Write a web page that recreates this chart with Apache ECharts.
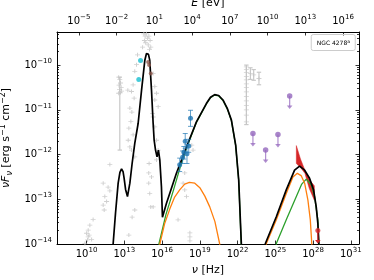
<!DOCTYPE html>
<html><head><meta charset="utf-8">
<script src="https://cdn.jsdelivr.net/npm/echarts@6/dist/echarts.min.js"></script>
<style>html,body{margin:0;padding:0;background:#fff}#c{width:374px;height:280px}</style>
</head><body><div id="c"></div>
<script>
// All values: [log10(nu / Hz), log10(nuFnu / erg s^-1 cm^-2)]
const X_TICKS = [10, 13, 16, 19, 22, 25, 28, 31];
const E_TICKS = [-5, -2, 1, 4, 7, 10, 13, 16];   // log10(E / eV)
const Y_TICKS = [-14, -13, -12, -11, -10];
const LOG_H_EV = -14.3834;                        // log10(h / eV s)

const totalLow = [[12.05,-14.3],[12.11,-14.0],[12.30,-13.31],[12.51,-12.64],[12.65,-12.40],[12.78,-12.32],[12.90,-12.38],[12.98,-12.52],[13.1,-12.78],[13.25,-12.94],[13.44,-12.64],[13.62,-12.20],[13.83,-11.75],[14.10,-11.30],[14.37,-10.56],[14.63,-9.89],[14.76,-9.74],[14.84,-9.70],[14.92,-9.76],[15.02,-9.89],[15.16,-10.56],[15.29,-11.30],[15.37,-11.68],[15.48,-11.90],[15.60,-12.05],[15.71,-11.90],[15.82,-12.12],[15.95,-12.72],[16.03,-13.40],[16.35,-13.09],[17.14,-12.42],[17.94,-11.83],[18.73,-11.27],[19.52,-10.86],[19.85,-10.72],[20.18,-10.66],[20.50,-10.68],[20.84,-10.78],[21.2,-10.98],[21.51,-11.23],[21.85,-11.79],[22.09,-12.57],[22.30,-14.0],[22.33,-14.3]];
const totalHigh = [[24.15,-14.3],[24.21,-13.99],[25.08,-13.39],[25.87,-12.79],[26.53,-12.35],[26.93,-12.26],[27.33,-12.35],[27.72,-12.53],[28.04,-12.79],[28.25,-13.17],[28.38,-13.54],[28.46,-14.0],[28.48,-14.3]];
const orangeLow = [[15.75,-14.3],[15.82,-14.0],[16.2,-13.55],[16.61,-13.22],[17.0,-12.95],[17.40,-12.79],[17.8,-12.66],[18.17,-12.62],[18.6,-12.64],[19.0,-12.74],[19.4,-12.93],[19.79,-13.17],[20.2,-13.5],[20.58,-14.0],[20.65,-14.3]];
const orangeHigh = [[24.2,-14.3],[24.29,-13.99],[25.08,-13.46],[25.87,-12.87],[26.40,-12.50],[26.75,-12.42],[27.05,-12.47],[27.33,-12.64],[27.59,-13.02],[27.78,-13.46],[27.90,-14.0],[27.93,-14.3]];
const greenLow = [[15.68,-14.3],[15.75,-14.0],[16.3,-13.35],[16.9,-12.8],[17.4,-12.32],[17.94,-11.86],[18.73,-11.28],[19.52,-10.87],[19.85,-10.73],[20.18,-10.67],[20.50,-10.69],[20.84,-10.79],[21.2,-10.99],[21.51,-11.24],[21.85,-11.80],[22.09,-12.58],[22.29,-14.0],[22.32,-14.3]];
const greenHigh = [[25.0,-14.3],[25.08,-13.99],[25.87,-13.46],[26.67,-12.94],[27.1,-12.66],[27.46,-12.55],[27.86,-12.68],[28.12,-12.94],[28.38,-13.46],[28.46,-14.0],[28.48,-14.3]];

const greyPoints = [
 [11.85,-12.22],[11.32,-12.64],[11.71,-12.73],[11.85,-12.81],[11.45,-12.94],[11.59,-13.05],[11.32,-13.13],[11.40,-13.24],[10.52,-13.45],[10.26,-13.58],[10.13,-13.69],[10.0,-13.76],[10.13,-13.84],[10.08,-13.91],[10.40,-13.90],[9.87,-13.99],[10.2,-13.80],
 [12.55,-10.27],[12.64,-10.32],[12.70,-10.40],[12.58,-10.45],[12.75,-10.50],[12.62,-10.55],[12.68,-10.62],[12.78,-10.58],[12.55,-10.63],
 [14.05,-9.77],[13.97,-9.99],[13.83,-10.14],[13.70,-10.44],[13.57,-10.59],[13.78,-10.74],[13.44,-10.96],[13.60,-11.05],[13.52,-11.26],[13.36,-11.41],[13.70,-11.56],[13.28,-10.56],[13.44,-11.83],[13.57,-11.90],[13.83,-12.05],[13.31,-11.68],
 [14.55,-9.30],[14.65,-9.35],[14.75,-9.30],[14.85,-9.40],[14.95,-9.35],[15.05,-9.45],[14.70,-9.50],[14.90,-9.55],[15.10,-9.60],[14.60,-9.45],[15.0,-9.65],[14.45,-9.60],
 [15.29,-10.19],[15.42,-10.48],[15.56,-10.63],[15.42,-10.78],[15.69,-10.93],[15.29,-11.16],[15.42,-11.38],[15.56,-11.68],[15.69,-11.90],[15.24,-11.08],[15.56,-12.12],
 [14.97,-12.20],[14.94,-12.41],[14.94,-12.64],[15.02,-12.87],[15.10,-13.17],[15.16,-12.50],[15.29,-13.17],
 [13.83,-13.24],[13.62,-13.40],[13.36,-13.80],
 [17.80,-12.41],[17.67,-12.64],[17.80,-12.79],[17.94,-12.94],[18.46,-11.90],[18.36,-11.79],[17.27,-13.46],[18.21,-13.75],[18.21,-13.84],[18.21,-13.93],
 [22.70,-10.04],[22.70,-10.10],[22.70,-10.17],[22.70,-10.25],[22.70,-10.33],[22.70,-10.42],[22.70,-10.50],[22.70,-10.60],[22.70,-10.70],[22.70,-10.80],[22.70,-10.90],[22.70,-11.0],[22.70,-11.12],[22.70,-11.27],
 [23.02,-10.19],[23.28,-10.22],[23.70,-10.30]
];
// [log nu, low, high]
const greyErrors = [[12.64,-11.90,-10.27],[22.70,-11.33,-10.0],[23.02,-10.32,-10.06],[23.28,-10.34,-10.10],[23.70,-10.44,-10.16]];
const cyanPoints = [[14.29,-9.90],[14.15,-10.32]];
const brownPoints = [[14.89,-9.93],[14.97,-10.0],[15.10,-10.19]];
const bluePoints = [[18.26,-11.19],[17.84,-11.70],[18.12,-11.81],[17.98,-11.98],[17.63,-12.06],[17.73,-11.95],[17.40,-12.23]];
const blueErrors = [[18.26,-11.37,-11.01],[17.84,-11.86,-11.53],[18.12,-11.95,-11.66],[17.98,-12.20,-11.78],[17.63,-12.2,-11.92],[17.73,-12.1,-11.82],[17.40,-12.38,-12.08]];
const purpleUL = [[23.22,-11.53],[24.23,-11.90],[25.21,-11.55],[26.14,-10.69]];
const redUL = [[28.38,-13.70]];
const bowtie = [[26.67,-11.80],[27.0,-12.10],[27.35,-12.35],[27.7,-12.56],[28.1,-12.70],[28.1,-13.02],[27.7,-12.76],[27.35,-12.42],[27.0,-12.29],[26.67,-12.20]];

const FONT = 'DejaVu Sans';
const X_MIN = 7.65, X_MAX = 31.65, Y_MIN = -14, Y_MAX = -9.26;
const UL_LEN = 0.28;

const yMinor = [];
for (let d = -14; d <= -10; d++) for (let k = 2; k <= 9; k++) { const v = d + Math.log10(k); if (v < Y_MAX) yMinor.push(v); }

const rich = {
  b: {fontSize: 10, fontFamily: FONT, color: '#000'},
  s: {fontSize: 7, fontFamily: FONT, color: '#000', padding: [0, 0, 8, 0]}
};
const supLabel = n => '{b|10}{s|' + (n < 0 ? '\u2212' + (-n) : n) + '}';

function errRender(color, cap, width) {
  return function (params, api) {
    const x = api.value(0), a = api.coord([x, api.value(1)]), b = api.coord([x, api.value(2)]);
    const st = {stroke: color, lineWidth: width};
    return {type: 'group', children: [
      {type: 'line', shape: {x1: a[0], y1: a[1], x2: b[0], y2: b[1]}, style: st},
      {type: 'line', shape: {x1: a[0] - cap, y1: a[1], x2: a[0] + cap, y2: a[1]}, style: st},
      {type: 'line', shape: {x1: b[0] - cap, y1: b[1], x2: b[0] + cap, y2: b[1]}, style: st}
    ]};
  };
}
function ulRender(color) {
  return function (params, api) {
    const x = api.value(0), y = api.value(1);
    const a = api.coord([x, y]), b = api.coord([x, y - UL_LEN]);
    return {type: 'group', children: [
      {type: 'line', shape: {x1: a[0], y1: a[1], x2: b[0], y2: b[1] - 2}, style: {stroke: color, lineWidth: 1.2}},
      {type: 'polygon', shape: {points: [[b[0] - 2.8, b[1] - 3], [b[0] + 2.8, b[1] - 3], [b[0], b[1] + 0.5]]}, style: {fill: color}}
    ]};
  };
}

const axisLineStyle = {show: true, lineStyle: {color: '#000', width: 1}};
function yAx(pos, minor, labels) {
  return {type: 'value', min: Y_MIN, max: Y_MAX, position: pos,
    axisLine: minor ? {show: false} : axisLineStyle,
    axisTick: {show: true, inside: true, length: minor ? 2 : 3.5, customValues: minor ? yMinor : Y_TICKS, lineStyle: {color: '#000', width: 0.8}},
    axisLabel: labels ? {show: true, customValues: Y_TICKS, formatter: v => supLabel(Math.round(v)), rich: rich, margin: 5} : {show: false},
    splitLine: {show: false},
    name: labels ? '{i|\u03bdF}{sub|\u03bd}{n| [erg s}{sup|\u22121}{n| cm}{sup|\u22122}{n|]}' : '',
    nameLocation: 'middle', nameGap: 34, nameRotate: 90,
    nameTextStyle: {fontFamily: FONT, fontSize: 11, color: '#000', rich: {
      i: {fontFamily: FONT, fontSize: 11, fontStyle: 'italic', color: '#000'},
      n: {fontFamily: FONT, fontSize: 11, color: '#000'},
      sub: {fontFamily: FONT, fontSize: 8, fontStyle: 'italic', color: '#000', padding: [6, 0, 0, 0]},
      sup: {fontFamily: FONT, fontSize: 8, color: '#000', padding: [0, 0, 7, 0]}
    }}
  };
}

const chart = echarts.init(document.getElementById('c'), null, {renderer: 'canvas'});
chart.setOption({
  animation: false,
  backgroundColor: '#fff',
  grid: {left: 57, right: 15, top: 32, bottom: 36, containLabel: false, outerBoundsMode: 'none'},
  title: {text: '{n|NGC 4278}{s|a}', right: 19, top: 34, padding: [5, 5, 4, 6], borderColor: '#cccccc', borderWidth: 1, borderRadius: 2,
    textStyle: {fontWeight: 'normal', rich: {n: {fontFamily: FONT, fontSize: 6, fontWeight: 'normal', color: '#000'}, s: {fontFamily: FONT, fontSize: 4.5, fontWeight: 'normal', color: '#000', padding: [0, 0, 4, 0]}}}},
  xAxis: [
    {type: 'value', min: X_MIN, max: X_MAX, position: 'bottom',
      axisLine: axisLineStyle,
      axisTick: {show: true, inside: true, length: 3.5, customValues: X_TICKS, lineStyle: {color: '#000', width: 0.8}},
      axisLabel: {show: true, customValues: X_TICKS, formatter: v => supLabel(Math.round(v)), rich: rich, margin: 3},
      splitLine: {show: false},
      name: '{i|\u03bd}{n| [Hz]}', nameLocation: 'middle', nameGap: 14,
      nameTextStyle: {rich: {i: {fontFamily: FONT, fontSize: 11, fontStyle: 'italic', color: '#000'}, n: {fontFamily: FONT, fontSize: 11, color: '#000'}}}},
    {type: 'value', min: X_MIN, max: X_MAX, position: 'top',
      axisLine: axisLineStyle,
      axisTick: {show: true, inside: true, length: 3.5, customValues: E_TICKS.map(e => e - LOG_H_EV), lineStyle: {color: '#000', width: 0.8}},
      axisLabel: {show: true, customValues: E_TICKS.map(e => e - LOG_H_EV), formatter: v => supLabel(Math.round(v + LOG_H_EV)), rich: rich, margin: 3},
      splitLine: {show: false},
      name: '{i|E}{n| [eV]}', nameLocation: 'middle', nameGap: 14,
      nameTextStyle: {rich: {i: {fontFamily: FONT, fontSize: 11, fontStyle: 'italic', color: '#000'}, n: {fontFamily: FONT, fontSize: 11, color: '#000'}}}}
  ],
  yAxis: [yAx('left', false, true), yAx('left', true, false), yAx('right', false, false), yAx('right', true, false)],
  series: [
    {type: 'custom', name: 'greyErr', data: greyErrors, encode: {x: 0, y: [1, 2]}, renderItem: errRender('#c8c8c8', 2.2, 1.2), clip: true, z: 1},
    {type: 'scatter', name: 'archival', data: greyPoints, symbol: 'path://M2,0H3V2H5V3H3V5H2V3H0V2H2Z', symbolSize: [5, 4], itemStyle: {color: '#c4c4c4'}, z: 2},
    {type: 'custom', name: 'bowtie', data: [0], renderItem: function (params, api) {
        return {type: 'polygon', shape: {points: bowtie.map(p => api.coord(p))}, style: {fill: '#d62728', stroke: '#d62728', lineWidth: 0.5}};
      }, clip: true, z: 3},
    {type: 'line', data: greenLow, showSymbol: false, lineStyle: {color: '#2ca02c', width: 1.3}, z: 4},
    {type: 'line', data: greenHigh, showSymbol: false, lineStyle: {color: '#2ca02c', width: 1.3}, z: 4},
    {type: 'line', data: orangeLow, showSymbol: false, lineStyle: {color: '#ff7f0e', width: 1.3}, z: 5},
    {type: 'line', data: orangeHigh, showSymbol: false, lineStyle: {color: '#ff7f0e', width: 1.3}, z: 5},
    {type: 'line', data: totalLow, showSymbol: false, lineStyle: {color: '#000', width: 1.7}, z: 6},
    {type: 'line', data: totalHigh, showSymbol: false, lineStyle: {color: '#000', width: 1.7}, z: 6},
    {type: 'scatter', data: cyanPoints, symbolSize: 5, itemStyle: {color: '#17becf'}, z: 7},
    {type: 'scatter', data: brownPoints, symbolSize: 4, itemStyle: {color: '#8c564b'}, z: 7},
    {type: 'custom', data: blueErrors, encode: {x: 0, y: [1, 2]}, renderItem: errRender('rgba(31,119,180,0.7)', 2.5, 1), clip: true, z: 7},
    {type: 'scatter', data: bluePoints, symbolSize: 5, itemStyle: {color: '#1f77b4'}, z: 8},
    {type: 'custom', data: purpleUL, encode: {x: 0, y: 1}, renderItem: ulRender('rgba(148,103,189,0.75)'), clip: true, z: 7},
    {type: 'scatter', data: purpleUL, symbolSize: 5.5, itemStyle: {color: '#9467bd'}, z: 8},
    {type: 'custom', data: redUL, encode: {x: 0, y: 1}, renderItem: ulRender('#d62728'), clip: true, z: 7},
    {type: 'scatter', data: redUL, symbolSize: 5, itemStyle: {color: '#d62728'}, z: 8}
  ]
});
</script></body></html>
